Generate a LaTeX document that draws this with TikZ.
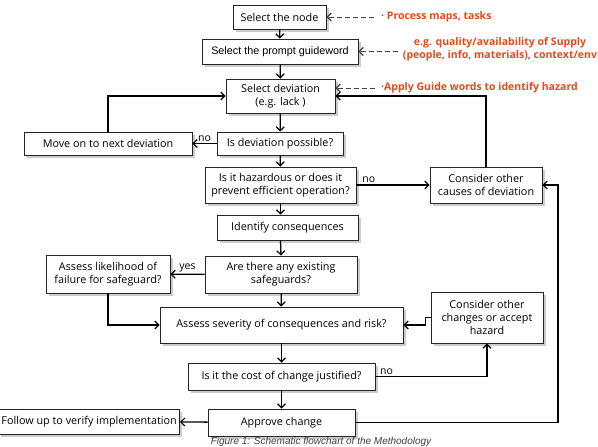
\documentclass[tikz,border=0pt]{standalone}
\usepackage{fontspec}
\setmainfont{Open Sans}
\newfontfamily\arialfont{Liberation Sans}
\usetikzlibrary{positioning,arrows.meta,shadows}
\definecolor{noteRed}{RGB}{232,72,28}
\tikzset{>={Straight Barb[length=4pt,width=8pt,line width=1.2pt]}}

\begin{document}
\begin{tikzpicture}[x=1pt,y=-1pt,
  stepbox/.style={draw=black!85,fill=white,line width=.8pt,align=center,inner sep=1pt,
    font=\fontsize{10.8}{13}\selectfont,
    drop shadow={shadow xshift=2.5pt,shadow yshift=-2.5pt,fill=black!40}},
  flow/.style={->,line width=1.3pt},
  dashflow/.style={->,dashed,dash pattern=on 5pt off 3pt,line width=.9pt,black!75},
  note/.style={text=noteRed,font=\fontsize{10.5}{12.5}\selectfont\bfseries,align=center,inner sep=1pt},
  lbl/.style={font=\fontsize{10.5}{12}\selectfont,inner sep=1.5pt}]
\useasboundingbox (0,0) rectangle (598,447);
% main column
\node[stepbox,minimum width=93pt,minimum height=24pt] (selnode) at (279.5,17) {Select the node};
\node[stepbox,minimum width=156pt,minimum height=25pt,font=\arialfont\fontsize{10.8}{12}\selectfont] (prompt) at (280,51.5) {Select the prompt guideword};
\node[stepbox,minimum width=109pt,minimum height=34pt] (deviation) at (280.5,96) {Select deviation\\(e.g. lack )};
\node[stepbox,minimum width=126pt,minimum height=23pt] (possible) at (280,143.5) {Is deviation possible?};
\node[stepbox,minimum width=151pt,minimum height=36pt] (hazard) at (280.5,185) {Is it hazardous or does it\\prevent efficient operation?};
\node[stepbox,minimum width=141pt,minimum height=25pt] (identify) at (287.5,227.5) {Identify consequences};
\node[stepbox,minimum width=152pt,minimum height=37pt] (safeguards) at (281,274.5) {Are there any existing\\safeguards?};
\node[stepbox,minimum width=243pt,minimum height=36pt] (severity) at (281.5,325) {Assess severity of consequences and risk?};
\node[stepbox,minimum width=187pt,minimum height=27pt] (cost) at (281.5,376.5) {Is it the cost of change justified?};
\node[stepbox,minimum width=147pt,minimum height=27pt] (approve) at (281.5,422.5) {Approve change};
% side boxes
\node[stepbox,minimum width=168pt,minimum height=23pt] (moveon) at (108,143.5) {Move on to next deviation};
\node[stepbox,minimum width=112pt,minimum height=36pt] (causes) at (486,185) {Consider other\\causes of deviation};
\node[stepbox,minimum width=124pt,minimum height=38pt] (likelihood) at (108,274) {Assess likelihood of\\failure for safeguard?};
\node[stepbox,minimum width=112pt,minimum height=51pt] (changes) at (487,317.5) {Consider other\\changes or accept\\hazard};
\node[stepbox,minimum width=181pt,minimum height=25pt,anchor=east] (followup) at (180,421.5) {Follow up to verify implementation};
% notes
\node[note,anchor=west] (noteA) at (380,17) {· Process maps, tasks};
\node[note] (noteB) at (500,49) {e.g. quality/availability of Supply\\(people, info, materials), context/env};
\node[note,anchor=west] (noteC) at (380,88) {·Apply Guide words to identify hazard};
\draw[dashflow,shorten <=6pt] (noteA.west) -- (noteA.west -| selnode.east);
\draw[dashflow,shorten <=4pt] (noteB.west |- prompt.east) -- (prompt.east);
\draw[dashflow,shorten <=5pt] (noteC.west) -- (noteC.west -| deviation.east);
% connectors
\draw[flow] (selnode) -- (prompt);
\draw[flow] (prompt) -- (deviation);
\draw[flow] (deviation) -- (possible);
\draw[flow] (possible) -- node[lbl,above] {no} (moveon);
\draw[flow] (moveon.north) |- (deviation.west);
\draw[flow] (possible) -- (hazard);
\draw[flow] (hazard.east) -- node[lbl,above,pos=.17] {no} (causes.west);
\draw[flow] (causes.north) |- (deviation.east);
\draw[flow] (hazard.south) -- (hazard.south |- identify.north);
\draw[flow] (hazard.south |- identify.south) -- (safeguards.north);
\draw[flow] (safeguards) -- node[lbl,above] {yes} (likelihood);
\draw[flow] (likelihood.south) |- (severity.west);
\draw[flow] (safeguards) -- (severity);
\draw[flow] (changes.west) -- ++(-5,0) |- (severity.east);
\draw[flow] (severity) -- (cost);
\draw[flow] (cost.east) -| node[lbl,above,pos=.05] {no} (changes.south);
\draw[flow] (cost) -- (approve);
\draw[flow] (approve) -- (followup);
\coordinate (rail) at (558,0);
\draw[flow] (approve.east) -| (rail |- causes.east) -- (causes.east);
% caption
\node[font=\arialfont\itshape\fontsize{10}{12}\selectfont,text=black!75,anchor=south,inner sep=0pt] (caption) at (321,447) {Figure 1: Schematic flowchart of the Methodology};
\end{tikzpicture}
\end{document}
